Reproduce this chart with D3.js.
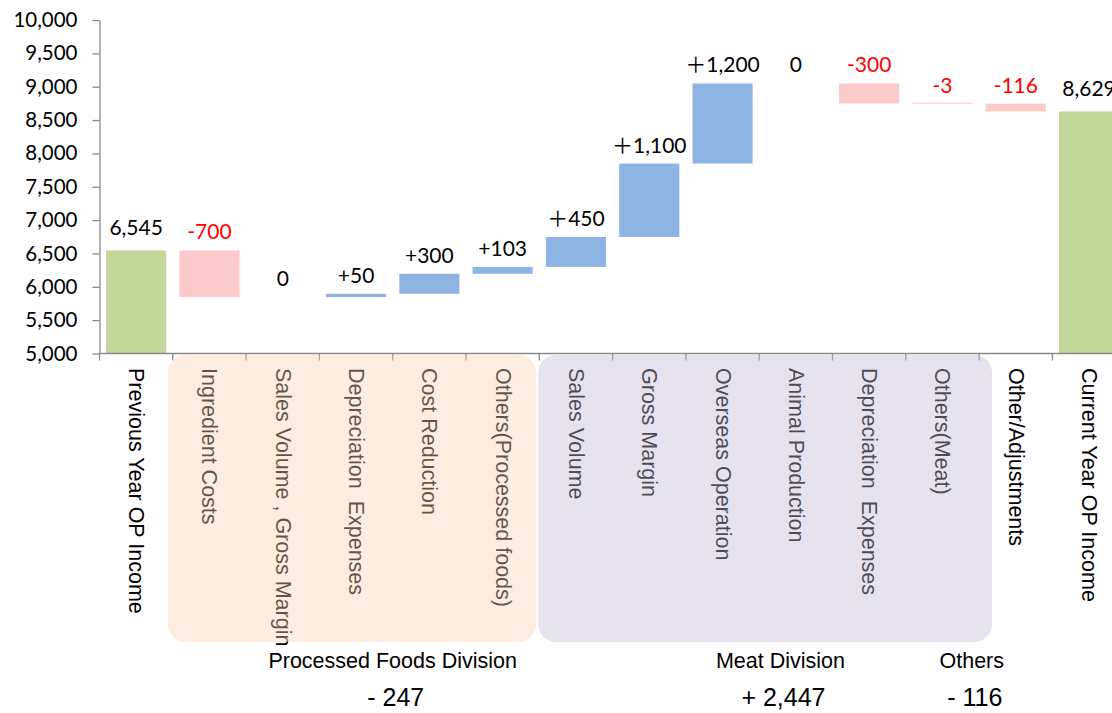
<!DOCTYPE html>
<html><head><meta charset="utf-8">
<script src="https://cdn.jsdelivr.net/npm/d3@7"></script>
<style>body{margin:0;background:#fff;overflow:hidden;} svg{display:block;}</style>
</head><body>
<svg id="chart" width="1112" height="713"></svg>
<script>
// ---------- data ----------
const categories = [
  "Previous Year OP Income", "Ingredient Costs", "Sales Volume , Gross Margin",
  "Depreciation  Expenses", "Cost Reduction", "Others(Processed foods)",
  "Sales Volume", "Gross Margin", "Overseas Operation", "Animal Production",
  "Depreciation  Expenses", "Others(Meat)", "Other/Adjustments", "Current Year OP Income"
];
const values = [6545, -700, 0, 50, 300, 103, 450, 1100, 1200, 0, -300, -3, -116, 8629];
const isTotal = [true, false, false, false, false, false, false, false, false, false, false, false, false, true];
const valueLabels = ["6,545", "-700", "0", "+50", "+300", "+103", "＋450", "＋1,100", "＋1,200", "0", "-300", "-3", "-116", "8,629"];
const yTicks = [5000, 5500, 6000, 6500, 7000, 7500, 8000, 8500, 9000, 9500, 10000];
const groupNames = ["Processed Foods Division", "Meat Division", "Others"];
const groupTotals = ["- 247", "+ 2,447", "- 116"];
const groupFirst = [1, 6, 12];
const groupLast = [5, 11, 12];
const groupBoxed = [true, true, false];

// ---------- layout ----------
const svg = d3.select("#chart");
const W = 1112, H = 713;
const x = d3.scaleBand().domain(d3.range(categories.length))
  .range([99.5, 99.5 + 73.3 * categories.length])
  .paddingInner(0.18).paddingOuter(0.09);
const y = d3.scaleLinear().domain([5000, 10000]).range([353.5, 20]);
const step = x.step();
const bandStart = i => x.range()[0] + i * step;

const colTotal = "#C4D79B", colUp = "#8EB4E3", colDown = "#FCCACA";
const axisCol = "#8a8a8a";
const numFont = "Lato, 'Noto Sans CJK JP', sans-serif";
const txtFont = "'Liberation Sans', Arial, sans-serif";

// running waterfall
let run = 0;
const bars = values.map((v, i) => {
  let lo, hi;
  if (isTotal[i]) { lo = 5000; hi = v; run = v; }
  else { const s = run, e = run + v; lo = Math.min(s, e); hi = Math.max(s, e); run = e; }
  return { i, v, lo, hi, total: isTotal[i] };
});

// ---------- bars ----------
svg.append("g").selectAll("rect").data(bars.filter(b => b.total || b.v !== 0)).join("rect")
  .attr("x", b => x(b.i))
  .attr("width", x.bandwidth())
  .attr("y", b => Math.min(y(b.hi), y(b.lo) - 1))
  .attr("height", b => Math.max(1, y(b.lo) - y(b.hi)))
  .attr("fill", b => b.total ? colTotal : (b.v > 0 ? colUp : colDown));

// value labels
svg.append("g").selectAll("text").data(bars).join("text")
  .attr("x", b => x(b.i) + x.bandwidth() / 2)
  .attr("y", b => y(b.hi) - (b.total ? 15 : 11))
  .attr("text-anchor", "middle")
  .attr("font-family", numFont)
  .attr("font-size", 21)
  .attr("fill", b => (!b.total && b.v < 0) ? "#FF0000" : "#000")
  .text(b => valueLabels[b.i]);

// ---------- y axis ----------
const gy = svg.append("g").attr("transform", "translate(99.5,0)")
  .call(d3.axisLeft(y).tickValues(yTicks).tickFormat(d3.format(",")).tickSize(7).tickSizeOuter(0).tickPadding(15));
gy.select(".domain").attr("stroke", axisCol).attr("stroke-width", 1.3);
gy.selectAll(".tick line").attr("stroke", axisCol).attr("stroke-width", 1.3);
gy.selectAll(".tick text").attr("font-family", numFont).attr("font-size", 20.5).attr("fill", "#000");

// ---------- x axis ----------
const gx = svg.append("g").attr("transform", `translate(0,${y(5000)})`);
gx.append("line").attr("x1", 99.5).attr("x2", W).attr("y1", 0).attr("y2", 0)
  .attr("stroke", axisCol).attr("stroke-width", 1.3);
gx.selectAll("line.sep").data(d3.range(categories.length + 1)).join("line")
  .attr("class", "sep")
  .attr("x1", i => bandStart(i)).attr("x2", i => bandStart(i))
  .attr("y1", 0).attr("y2", 7)
  .attr("stroke", axisCol).attr("stroke-width", 1.3);

// category labels (rotated)
svg.append("g").selectAll("text").data(categories).join("text")
  .attr("transform", (d, i) => `translate(${x(i) + x.bandwidth() / 2},368) rotate(90)`)
  .attr("text-anchor", "start")
  .attr("dominant-baseline", "central")
  .attr("font-family", txtFont)
  .attr("font-size", 21.5)
  .attr("fill", "#000")
  .style("white-space", "pre")
  .text(d => d);

// ---------- group boxes (translucent overlay) ----------
const boxFill = ["rgb(250,210,180)", "rgb(192,185,212)"];
const boxLeftAdj = [-5, -1], boxRightAdj = [-3, 13];
groupNames.forEach((g, k) => {
  if (!groupBoxed[k]) return;
  const x0 = bandStart(groupFirst[k]) + boxLeftAdj[k];
  const x1 = bandStart(groupLast[k] + 1) + boxRightAdj[k];
  svg.append("rect")
    .attr("x", x0).attr("y", 355).attr("width", x1 - x0).attr("height", 642 - 355)
    .attr("rx", 18).attr("ry", 18)
    .attr("fill", boxFill[k]).attr("fill-opacity", 0.4);
});

// ---------- group captions ----------
const groupLabelAt = [4.0, 9.29, 11.9];
groupNames.forEach((g, k) => {
  const cx = bandStart(0) + groupLabelAt[k] * step;
  svg.append("text").attr("x", cx).attr("y", 668)
    .attr("text-anchor", "middle").attr("font-family", txtFont).attr("font-size", 21.5)
    .attr("fill", "#000").text(g);
  svg.append("text").attr("x", cx + 3).attr("y", 706)
    .attr("text-anchor", "middle").attr("font-family", txtFont).attr("font-size", 25)
    .attr("fill", "#000").style("white-space", "pre").text(groupTotals[k]);
});
</script>
</body></html>
